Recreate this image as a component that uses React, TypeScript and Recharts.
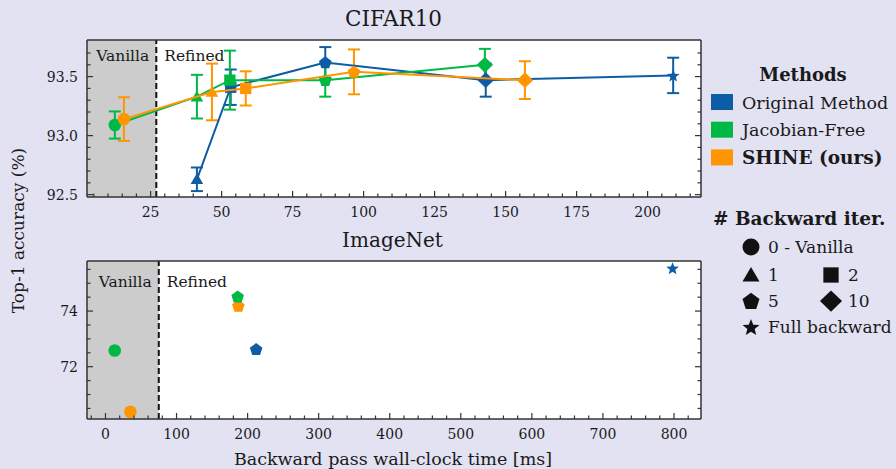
import {
  ScatterChart,
  Scatter,
  XAxis,
  YAxis,
  ErrorBar,
  ReferenceArea,
  ReferenceLine,
} from 'recharts';

const BLUE = '#0C5DA5';
const GREEN = '#00B945';
const ORANGE = '#FF9500';
const BG = '#e2e2f3';
const INK = '#1a1a1a';
const AX = '#333333';
const SERIF = '"DejaVu Serif", serif';

// CIFAR10 (time in ms, top-1 acc, std)
const cifarOrigX = [41.3, 53.2, 86.5, 143, 209];
const cifarOrigY = [92.63, 93.41, 93.62, 93.47, 93.51];
const cifarOrigErr = [0.1, 0.15, 0.13, 0.14, 0.15];
const cifarOrigM = ['tri', 'sq', 'pent', 'dia', 'star'];

const cifarJfX = [12.4, 41.3, 52.9, 86.5, 142.7];
const cifarJfY = [93.09, 93.33, 93.47, 93.47, 93.6];
const cifarJfErr = [0.115, 0.185, 0.25, 0.14, 0.135];
const cifarJfM = ['circle', 'tri', 'sq', 'pent', 'dia'];

const cifarShineX = [15.6, 46.6, 58.5, 96.6, 156.8];
const cifarShineY = [93.14, 93.37, 93.4, 93.54, 93.47];
const cifarShineErr = [0.185, 0.24, 0.145, 0.19, 0.16];
const cifarShineM = ['circle', 'tri', 'sq', 'pent', 'dia'];

// ImageNet
const inOrigX = [212, 798];
const inOrigY = [72.63, 75.54];
const inOrigM = ['pent', 'star'];

const inJfX = [13, 186];
const inJfY = [72.58, 74.52];
const inJfM = ['circle', 'pent'];

const inShineX = [35, 187];
const inShineY = [70.38, 74.19];
const inShineM = ['circle', 'pent'];

// axes
const cifarXMajor = [25, 50, 75, 100, 125, 150, 175, 200];
const cifarYMajor = [92.5, 93.0, 93.5];
const inXMajor = [0, 100, 200, 300, 400, 500, 600, 700, 800];
const inYMajor = [72, 74];

const methods = ['Original Method', 'Jacobian-Free', 'SHINE (ours)'];
const methodColors = [BLUE, GREEN, ORANGE];

type Pt = { x: number; y: number; err?: number; m: string };

const zip = (xs: number[], ys: number[], ms: string[], errs?: number[]): Pt[] =>
  xs.map((x, i) => ({ x, y: ys[i], m: ms[i], err: errs ? errs[i] : undefined }));

const steps = (a: number, b: number, s: number) => {
  const out: number[] = [];
  for (let v = a; v <= b + 1e-9; v += s) out.push(Math.round(v * 1000) / 1000);
  return out;
};
const near = (arr: number[], v: number) => arr.some((m) => Math.abs(m - v) < 1e-6);

function Marker({ kind, cx, cy, s, fill }: any) {
  if (kind === 'circle') return <circle cx={cx} cy={cy} r={s} fill={fill} />;
  let pts: number[][] = [];
  if (kind === 'tri') pts = [[0, -0.95], [-1, 0.75], [1, 0.75]];
  else if (kind === 'sq') pts = [[-0.9, -0.9], [0.9, -0.9], [0.9, 0.9], [-0.9, 0.9]];
  else if (kind === 'pent')
    pts = [0, 1, 2, 3, 4].map((i) => {
      const a = -Math.PI / 2 + (i * 2 * Math.PI) / 5;
      return [Math.cos(a) * 1.05, Math.sin(a) * 1.05 + 0.08];
    });
  else if (kind === 'dia') pts = [[0, -1.25], [1.3, 0], [0, 1.25], [-1.3, 0]];
  else if (kind === 'star')
    pts = Array.from({ length: 10 }, (_, i) => {
      const a = -Math.PI / 2 + (i * Math.PI) / 5;
      const r = i % 2 === 0 ? 1.05 : 0.45;
      return [Math.cos(a) * r, Math.sin(a) * r + 0.1];
    });
  return <polygon points={pts.map(([a, b]) => `${cx + a * s},${cy + b * s}`).join(' ')} fill={fill} />;
}

const tickBottom = (major: number[], fmt: (v: number) => string) => (p: any) => {
  const v = Number(p.payload.value);
  const big = near(major, v);
  return (
    <g>
      <line x1={p.x} x2={p.x} y1={p.y} y2={p.y - (big ? 6 : 3.5)} stroke={AX} strokeWidth={1.2} />
      {big && (
        <text x={p.x} y={p.y + 20} textAnchor="middle" fontSize={14} fill={INK} fontFamily={SERIF}>
          {fmt(v)}
        </text>
      )}
    </g>
  );
};
const tickTop = (major: number[]) => (p: any) => {
  const big = near(major, Number(p.payload.value));
  return <line x1={p.x} x2={p.x} y1={p.y} y2={p.y + (big ? 6 : 3.5)} stroke={AX} strokeWidth={1.2} />;
};
const tickLeft = (major: number[], fmt: (v: number) => string) => (p: any) => {
  const v = Number(p.payload.value);
  const big = near(major, v);
  return (
    <g>
      <line x1={p.x} x2={p.x + (big ? 6 : 3.5)} y1={p.y} y2={p.y} stroke={AX} strokeWidth={1.2} />
      {big && (
        <text x={p.x - 9} y={p.y + 5} textAnchor="end" fontSize={14} fill={INK} fontFamily={SERIF}>
          {fmt(v)}
        </text>
      )}
    </g>
  );
};
const tickRight = (major: number[]) => (p: any) => {
  const big = near(major, Number(p.payload.value));
  return <line x1={p.x} x2={p.x - (big ? 6 : 3.5)} y1={p.y} y2={p.y} stroke={AX} strokeWidth={1.2} />;
};

function SplitLabel({ viewBox, dy }: any) {
  const x = viewBox?.x ?? 0;
  const y = viewBox?.y ?? 0;
  return (
    <g fontFamily={SERIF} fontSize={15.5} fill={INK}>
      <text x={x - 7} y={y + dy} textAnchor="end">Vanilla</text>
      <text x={x + 8} y={y + dy}>Refined</text>
    </g>
  );
}

type Series = { data: Pt[]; color: string };

function Panel({
  series, lines, xDomain, yDomain, xTicks, xMajor, yTicks, yMajor, xFmt, yFmt, split, labelDy, s, height, mTop, mBottom,
}: any) {
  const axisLine = { stroke: AX, strokeWidth: 1.5 };
  return (
    <ScatterChart width={896} height={height} margin={{ top: mTop - 1, right: 194, bottom: mBottom - 1, left: 86 }}>
      <XAxis xAxisId="b" type="number" dataKey="x" domain={xDomain} allowDataOverflow ticks={xTicks} interval={0}
        height={1} tickSize={0} tickMargin={0} tickLine={false} axisLine={axisLine} tick={tickBottom(xMajor, xFmt)} />
      <XAxis xAxisId="t" orientation="top" type="number" domain={xDomain} allowDataOverflow ticks={xTicks} interval={0}
        height={1} tickSize={0} tickMargin={0} tickLine={false} axisLine={axisLine} tick={tickTop(xMajor)} />
      <YAxis yAxisId="l" type="number" dataKey="y" domain={yDomain} allowDataOverflow ticks={yTicks} interval={0}
        width={1} tickSize={0} tickMargin={0} tickLine={false} axisLine={axisLine} tick={tickLeft(yMajor, yFmt)} />
      <YAxis yAxisId="r" orientation="right" type="number" domain={yDomain} allowDataOverflow ticks={yTicks} interval={0}
        width={1} tickSize={0} tickMargin={0} tickLine={false} axisLine={axisLine} tick={tickRight(yMajor)} />
      <ReferenceArea xAxisId="b" yAxisId="l" x1={xDomain[0]} x2={xDomain[1]} y1={yDomain[0]} y2={yDomain[1]}
        fill="#ffffff" fillOpacity={1} stroke="none" />
      <ReferenceArea xAxisId="b" yAxisId="l" x1={xDomain[0]} x2={split} y1={yDomain[0]} y2={yDomain[1]}
        fill="#cccccc" fillOpacity={1} stroke="none" />
      <ReferenceLine xAxisId="b" yAxisId="l" x={split} stroke="#111" strokeWidth={2} strokeDasharray="6 3"
        label={<SplitLabel dy={labelDy} />} />
      {series.map((sr: Series, i: number) => (
        <Scatter
          key={i}
          xAxisId="b"
          yAxisId="l"
          data={sr.data}
          fill={sr.color}
          line={lines ? { stroke: sr.color, strokeWidth: 2 } : false}
          lineType="joint"
          isAnimationActive={false}
          shape={(p: any) => <Marker kind={p.payload.m} cx={p.cx} cy={p.cy} s={s} fill={sr.color} />}
        >
          {lines && <ErrorBar dataKey="err" direction="y" width={6} strokeWidth={2} stroke={sr.color} />}
        </Scatter>
      ))}
    </ScatterChart>
  );
}

export default function App() {
  const cifarSeries: Series[] = [
    { data: zip(cifarOrigX, cifarOrigY, cifarOrigM, cifarOrigErr), color: BLUE },
    { data: zip(cifarJfX, cifarJfY, cifarJfM, cifarJfErr), color: GREEN },
    { data: zip(cifarShineX, cifarShineY, cifarShineM, cifarShineErr), color: ORANGE },
  ];
  const inSeries: Series[] = [
    { data: zip(inOrigX, inOrigY, inOrigM), color: BLUE },
    { data: zip(inShineX, inShineY, inShineM), color: ORANGE },
    { data: zip(inJfX, inJfY, inJfM), color: GREEN },
  ];
  const legendMarks = [
    { kind: 'circle', x: 751, y: 247, label: '0 - Vanilla' },
    { kind: 'tri', x: 751, y: 275, label: '1' },
    { kind: 'sq', x: 831, y: 275, label: '2' },
    { kind: 'pent', x: 751, y: 301, label: '5' },
    { kind: 'dia', x: 831, y: 301, label: '10' },
    { kind: 'star', x: 751, y: 327, label: 'Full backward' },
  ];
  return (
    <div style={{ position: 'absolute', left: 0, top: 0, width: 896, height: 469, background: BG, overflow: 'hidden' }}>
      <div style={{ position: 'absolute', left: 0, top: 0 }}>
        <Panel
          series={cifarSeries}
          lines
          xDomain={[2.6, 218.8]}
          yDomain={[92.48, 93.81]}
          xTicks={steps(5, 215, 5)}
          xMajor={cifarXMajor}
          yTicks={steps(92.5, 93.7, 0.1)}
          yMajor={cifarYMajor}
          xFmt={(v: number) => String(v)}
          yFmt={(v: number) => v.toFixed(1)}
          split={27}
          labelDy={21}
          s={6.3}
          height={230}
          mTop={40}
          mBottom={33}
        />
      </div>
      <div style={{ position: 'absolute', left: 0, top: 230 }}>
        <Panel
          series={inSeries}
          lines={false}
          xDomain={[-26, 838]}
          yDomain={[70.12, 75.8]}
          xTicks={steps(-20, 820, 20)}
          xMajor={inXMajor}
          yTicks={steps(70.5, 75.5, 0.5)}
          yMajor={inYMajor}
          xFmt={(v: number) => String(v)}
          yFmt={(v: number) => String(v)}
          split={75}
          labelDy={25.5}
          s={6.3}
          height={239}
          mTop={31}
          mBottom={50}
        />
      </div>
      <svg style={{ position: 'absolute', left: 0, top: 0, pointerEvents: 'none' }} width={896} height={469}
        fontFamily={SERIF} fill={INK}>
        <text x={393.5} y={26} textAnchor="middle" fontSize={21.5}>CIFAR10</text>
        <text x={392.5} y={247} textAnchor="middle" fontSize={20}>ImageNet</text>
        <text x={393} y={465} textAnchor="middle" fontSize={17.5}>Backward pass wall-clock time [ms]</text>
        <text x={24} y={230.5} textAnchor="middle" fontSize={17} transform="rotate(-90 24 230.5)">
          Top-1 accuracy (%)
        </text>
        <text x={803} y={81} textAnchor="middle" fontSize={18} fontWeight="bold">Methods</text>
        {methods.map((m, i) => (
          <g key={m}>
            <rect x={711} y={94 + i * 27.7} width={22} height={16} fill={methodColors[i]} />
            <text x={742} y={108.5 + i * 27.5} fontSize={i === 2 ? 18.5 : 17.5} fontWeight={i === 2 ? 'bold' : 'normal'}>{m}</text>
          </g>
        ))}
        <text x={713} y={225} fontSize={18.5} fontWeight="bold"># Backward iter.</text>
        {legendMarks.map((lm) => (
          <g key={lm.label}>
            <Marker kind={lm.kind} cx={lm.x} cy={lm.y} s={8.5} fill="#111" />
            <text x={lm.x + 17} y={lm.y + 6} fontSize={17}>{lm.label}</text>
          </g>
        ))}
      </svg>
    </div>
  );
}
